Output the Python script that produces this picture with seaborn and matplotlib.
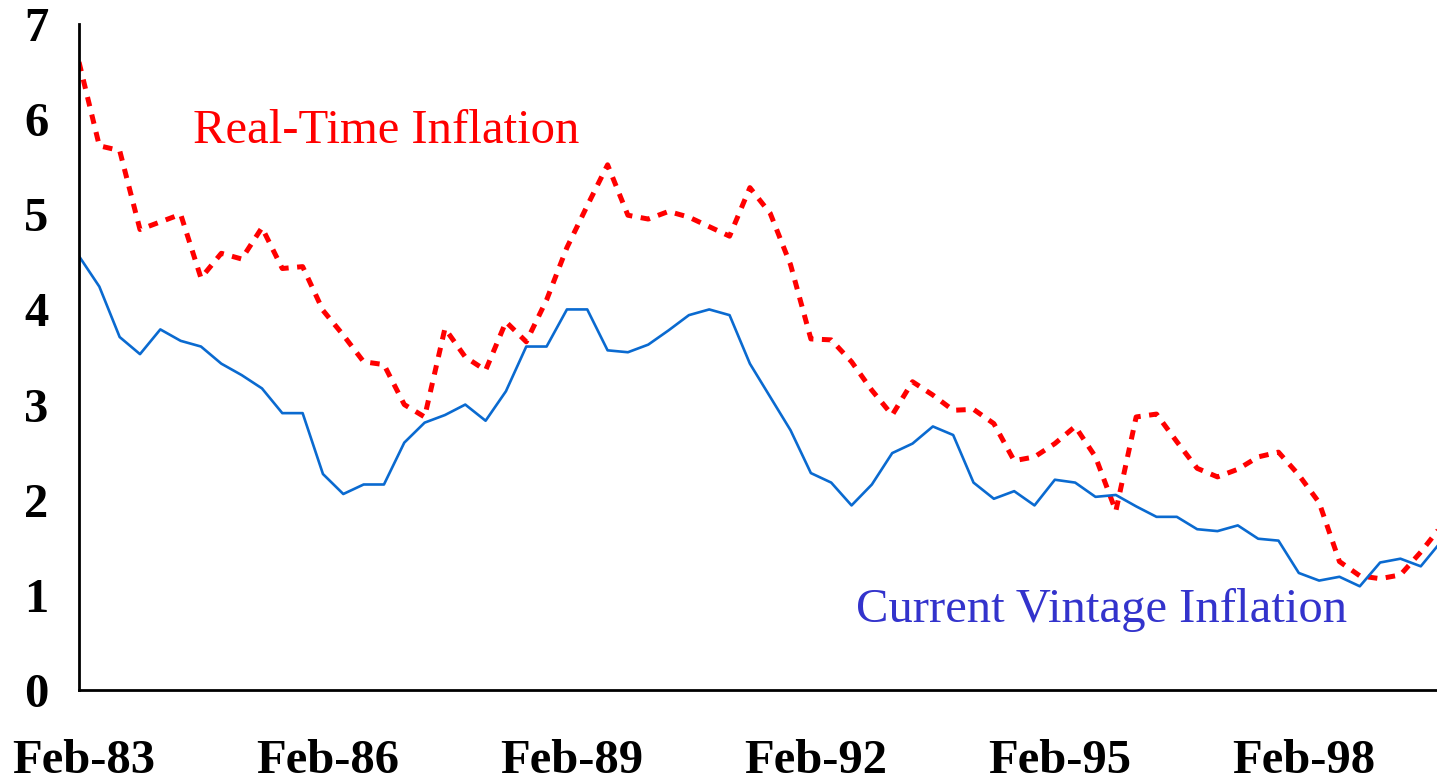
import numpy as np
import pandas as pd
import matplotlib
matplotlib.use("Agg")
import matplotlib.pyplot as plt
import matplotlib.transforms as mtransforms
import seaborn as sns

# Quarterly observations starting Feb-83
current_vintage = [4.56, 4.24, 3.71, 3.53, 3.79, 3.67, 3.61, 3.43, 3.31, 3.17,
                   2.91, 2.91, 2.27, 2.06, 2.16, 2.16, 2.60, 2.81, 2.89, 3.00,
                   2.83, 3.14, 3.61, 3.61, 4.00, 4.00, 3.57, 3.55, 3.63, 3.78,
                   3.94, 4.00, 3.94, 3.43, 3.08, 2.73, 2.28, 2.18, 1.94, 2.16,
                   2.49, 2.59, 2.77, 2.68, 2.18, 2.01, 2.09, 1.94, 2.21, 2.18,
                   2.03, 2.05, 1.93, 1.82, 1.82, 1.69, 1.67, 1.73, 1.59, 1.57,
                   1.23, 1.15, 1.19, 1.09, 1.34, 1.38, 1.30, 1.56]
real_time = [6.60, 5.72, 5.67, 4.84, 4.92, 5.00, 4.33, 4.59, 4.53, 4.86,
             4.43, 4.45, 3.99, 3.73, 3.45, 3.42, 3.00, 2.87, 3.80, 3.50,
             3.36, 3.87, 3.66, 4.10, 4.65, 5.09, 5.52, 4.99, 4.95, 5.03,
             4.97, 4.87, 4.77, 5.28, 5.01, 4.47, 3.69, 3.68, 3.45, 3.15,
             2.89, 3.24, 3.10, 2.94, 2.95, 2.80, 2.41, 2.45, 2.59, 2.77,
             2.45, 1.88, 2.87, 2.90, 2.61, 2.33, 2.24, 2.32, 2.45, 2.50,
             2.26, 1.97, 1.35, 1.20, 1.17, 1.21, 1.45, 1.72]
tick_labels = ["Feb-83", "Feb-86", "Feb-89", "Feb-92", "Feb-95", "Feb-98"]
y_ticks = [0, 1, 2, 3, 4, 5, 6, 7]

quarter = np.arange(len(current_vintage))
df = pd.DataFrame({"quarter": quarter,
                   "Current Vintage Inflation": current_vintage,
                   "Real-Time Inflation": real_time})

sns.set_theme(style="white")
plt.rcParams["font.family"] = ["Liberation Serif", "DejaVu Serif"]

fig = plt.figure(figsize=(14.37, 7.81), dpi=100)
ax = fig.add_axes([79 / 1437, 91 / 781, 1 - 79 / 1437, (690 - 24) / 781])

sns.lineplot(data=df, x="quarter", y="Real-Time Inflation", ax=ax,
             color="#FF0000", linewidth=3.6, dashes=False)
ax.lines[-1].set_dashes((1.9, 1.7))
sns.lineplot(data=df, x="quarter", y="Current Vintage Inflation", ax=ax,
             color="#0A6AD0", linewidth=1.9)

ax.set_xlim(0, (1437 - 79) / 20.33)
ax.set_ylim(0, 7)
ax.set_xticks(np.arange(len(tick_labels)) * 12)
ax.set_xticklabels(tick_labels)
ax.set_yticks(y_ticks)
ax.set_xlabel("")
ax.set_ylabel("")

for s in ["top", "right"]:
    ax.spines[s].set_visible(False)
for s in ["left", "bottom"]:
    ax.spines[s].set_color("black")
    ax.spines[s].set_linewidth(2.0)

ax.tick_params(axis="x", direction="in", length=10, width=1.5, color="black",
               pad=35, labelsize=35)
ax.tick_params(axis="y", direction="out", length=10, width=1.5, color="black",
               pad=12, labelsize=35)
shift = mtransforms.ScaledTranslation(5 / 100, 0, fig.dpi_scale_trans)
for lab in ax.get_xticklabels():
    lab.set_transform(lab.get_transform() + shift)
for lab in ax.get_xticklabels() + ax.get_yticklabels():
    lab.set_fontweight("bold")
    lab.set_color("black")

ax.text(5.6, 5.75, "Real-Time Inflation", color="#FF0000", fontsize=35,
        ha="left", va="baseline")
ax.text(38.2, 0.715, "Current Vintage Inflation", color="#3333CC", fontsize=35,
        ha="left", va="baseline")

ax.grid(False)
fig.savefig("out.png", dpi=100)
